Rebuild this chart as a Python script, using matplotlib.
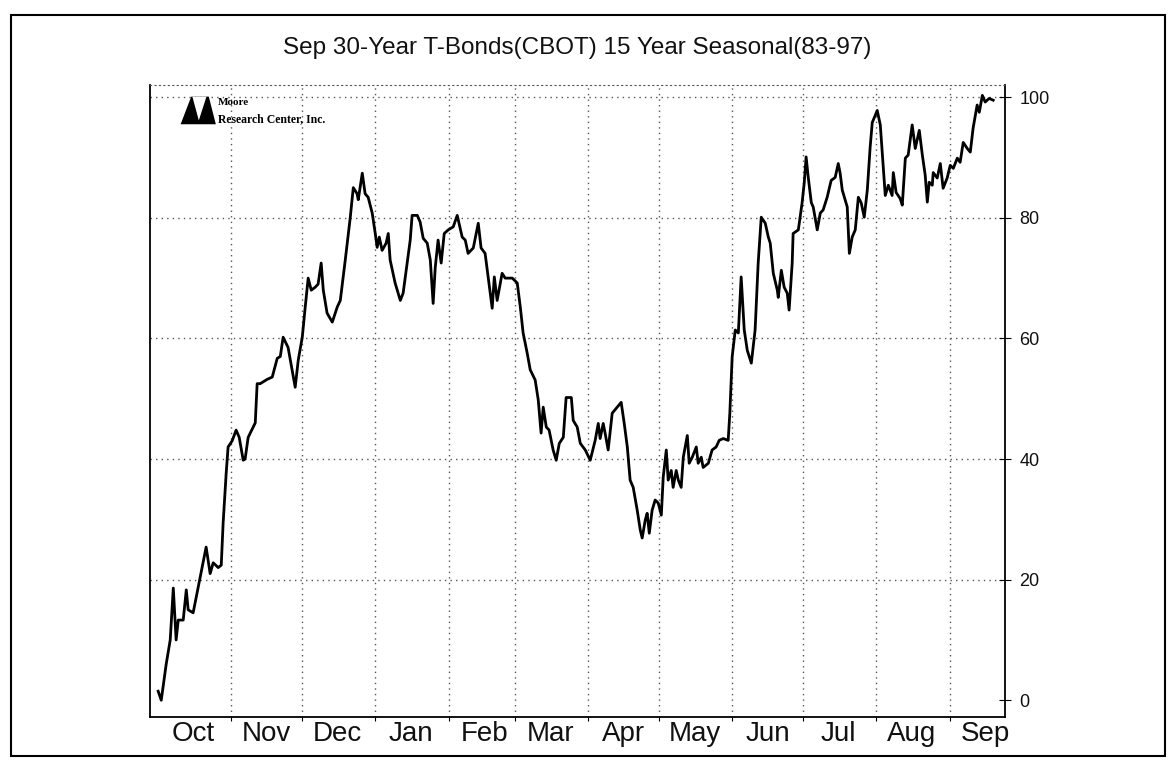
import matplotlib
matplotlib.use("Agg")
import matplotlib.pyplot as plt
import matplotlib.dates as mdates
import matplotlib.patches as patches
import pandas as pd

title = "Sep 30-Year T-Bonds(CBOT) 15 Year Seasonal(83-97)"
season_start = "1996-10-01"

# days since Oct 1
day = [
    0.0, 1.3, 3.4, 5.1, 6.4, 7.6, 8.5, 10.6, 11.9, 12.7, 14.8, 17.8, 20.3, 22.0,
    23.3, 25.4, 26.7, 27.5, 28.8, 29.6, 31.3, 33.0, 34.3, 36.0, 36.8, 38.1, 41.1,
    41.9, 43.2, 46.1, 48.3, 50.4, 51.7, 52.9, 55.0, 58.0, 59.3, 61.0, 62.2, 63.5,
    64.8, 66.5, 67.7, 69.0, 69.9, 71.5, 73.7, 75.8, 77.1, 79.2, 81.3, 82.6, 84.2,
    84.7, 86.4, 87.6, 88.9, 90.6, 91.9, 92.7, 93.6, 94.8, 96.5, 97.4, 98.2, 100.3,
    102.5, 103.7, 105.4, 106.7, 107.5, 109.7, 110.9, 112.2, 113.9, 115.2, 116.4,
    117.3, 118.5, 119.8, 121.1, 122.8, 124.9, 126.6, 128.7, 130.0, 131.2, 133.4,
    135.5, 136.7, 138.4, 139.7, 141.4, 142.3, 143.5, 145.6, 146.9, 149.9, 152.0,
    153.3, 154.5, 156.2, 157.5, 159.6, 160.9, 162.1, 163.0, 164.3, 165.5, 167.2,
    168.5, 169.8, 171.5, 172.7, 174.9, 175.7, 177.4, 178.7, 180.8, 182.9, 185.0,
    186.3, 187.1, 188.4, 189.2, 190.5, 192.2, 194.3, 196.0, 197.3, 198.6, 199.8,
    201.1, 202.8, 204.1, 204.9, 206.2, 207.0, 207.9, 209.1, 210.4, 211.7, 213.0,
    213.8, 215.1, 215.9, 217.2, 218.0, 219.3, 220.2, 221.4, 222.3, 224.0, 224.8,
    226.1, 227.8, 228.6, 229.9, 230.7, 232.9, 234.5, 236.2, 237.5, 239.2, 241.3,
    242.0, 243.0, 244.3, 245.6, 246.8, 248.1, 249.4, 251.1, 252.7, 254.0, 255.3,
    257.0, 258.3, 259.1, 260.4, 262.1, 262.5, 263.8, 265.0, 266.3, 267.1, 268.4,
    268.8, 271.0, 272.6, 273.5, 274.3, 275.2, 276.5, 277.3, 279.0, 280.3, 281.5,
    283.2, 284.9, 286.6, 287.9, 288.7, 289.6, 290.9, 291.7, 292.6, 293.8, 295.1,
    296.4, 297.6, 298.9, 300.2, 301.4, 302.3, 304.4, 305.7, 306.5, 307.8, 309.1,
    310.7, 311.2, 312.4, 314.1, 315.0, 316.3, 317.5, 319.2, 320.5, 322.2, 323.5,
    324.7, 325.6, 326.4, 327.7, 328.1, 329.8, 331.1, 332.3, 334.0, 335.3, 336.6,
    338.3, 339.5, 340.8, 342.5, 343.8, 345.0, 346.7, 347.6, 348.9, 350.1, 351.8,
    353.5,
]

value = [
    1.5, 0.0, 6.0, 10.0, 18.6, 10.0, 13.3, 13.3, 18.3, 15.0, 14.5, 20.4, 25.4, 21.0,
    22.8, 22.0, 22.4, 29.4, 37.7, 42.0, 43.0, 44.8, 43.6, 39.8, 40.0, 43.6, 46.0,
    52.5, 52.5, 53.2, 53.6, 56.7, 57.0, 60.2, 58.5, 51.9, 56.4, 60.2, 65.0, 70.0,
    68.0, 68.5, 69.0, 72.5, 68.0, 64.2, 62.7, 65.2, 66.3, 73.0, 80.0, 85.0, 84.0,
    83.0, 87.4, 84.0, 83.4, 80.8, 77.4, 75.1, 76.8, 74.6, 75.8, 77.4, 73.0, 69.2,
    66.3, 67.5, 72.5, 76.3, 80.4, 80.4, 79.3, 76.6, 75.8, 73.0, 65.8,
    71.8, 76.3, 72.5, 77.4, 78.0, 78.5, 80.4, 76.8, 76.3, 74.1, 75.0,
    79.1, 75.0, 74.1, 70.2, 65.0, 70.2, 66.3, 70.8, 70.0, 70.0, 69.2,
    65.2, 60.9, 57.6, 54.8, 53.1, 49.8, 44.3, 48.6, 45.3, 44.8, 41.5,
    39.8, 42.6, 43.6, 50.2, 50.2, 46.4, 45.3, 42.6, 41.5, 39.8, 43.1,
    45.9, 43.4, 45.9, 44.3, 41.5, 47.6, 48.6, 49.4, 45.9, 42.0, 36.5,
    35.3, 31.5, 28.2, 26.9, 29.9, 31.0, 27.7, 31.5, 33.2, 32.7, 30.7,
    37.0, 41.5, 36.5, 38.1, 35.3, 38.1, 36.5, 35.3, 40.3, 43.9, 39.3,
    40.3, 42.0, 39.3, 40.3, 38.6, 39.3, 41.5, 42.0, 43.1, 43.4, 43.1,
    47.6, 57.0, 61.4, 60.9, 70.2, 61.4, 58.0, 55.9, 61.4, 72.5, 80.1,
    79.1, 76.8, 75.8, 70.8, 68.0, 66.8, 71.3, 68.5, 67.5, 64.7, 72.5,
    77.4, 78.0, 82.5, 85.8, 90.1, 86.7, 82.5, 81.8, 78.0, 80.8, 81.3,
    83.4, 86.2, 86.7, 89.0, 87.4, 84.6, 82.9, 81.8, 74.1, 76.8, 78.0,
    83.4, 82.5, 80.1, 84.6, 91.7, 95.8, 97.8, 95.4, 90.9, 83.7, 85.4,
    83.7, 87.5, 84.2, 83.2, 82.1, 89.9, 90.4, 95.4, 91.5, 94.5, 90.4,
    87.1, 82.6, 85.9, 85.4, 87.5, 86.6, 89.0, 84.9, 86.6, 88.7, 88.2,
    89.9, 89.2, 92.5, 91.5, 90.9, 94.9, 98.7, 97.5, 100.3, 99.2, 99.8,
    99.5,
]

y_ticks = [0, 20, 40, 60, 80, 100]

start = pd.Timestamp(season_start)
dates = start + pd.to_timedelta(day, unit="D")

fig = plt.figure(figsize=(11.73, 7.67), dpi=100)
plt.rcParams["font.family"] = ["Liberation Sans", "DejaVu Sans"]

# outer frame around the whole chart
fig.patches.append(patches.Rectangle((0.009, 0.014), 0.984, 0.966, transform=fig.transFigure,
                                     fill=False, edgecolor="black", linewidth=1.5))

ax = fig.add_axes([0.128, 0.065, 0.729, 0.824])
ax.plot(dates, value, color="black", linewidth=2.0)

ax.set_xlim(start - pd.Timedelta(days=3.4), start + pd.Timedelta(days=358.6))
ax.set_ylim(-2.8, 102)

# month boundaries as gridlines, month names centred between them
ax.xaxis.set_major_locator(mdates.MonthLocator(bymonth=[11, 12, 1, 2, 3, 4, 5, 6, 7, 8, 9]))
ax.xaxis.set_major_formatter(plt.NullFormatter())
ax.xaxis.set_minor_locator(mdates.MonthLocator(bymonthday=16))
ax.xaxis.set_minor_formatter(mdates.DateFormatter("%b"))
ax.tick_params(axis="x", which="major", length=3, direction="out")
ax.tick_params(axis="x", which="minor", length=0, labelsize=20, pad=3, labelcolor="#111111")

ax.yaxis.tick_right()
ax.set_yticks(y_ticks)
ax.tick_params(axis="y", which="major", length=8, direction="inout", labelsize=13, pad=6,
               labelcolor="#111111")

ax.grid(True, which="major", color="#555555", linestyle=(0, (1, 3)), linewidth=1.0)
ax.get_ygridlines()[0].set_visible(False)

for side in ["left", "right", "bottom"]:
    ax.spines[side].set_linewidth(1.3)
ax.spines["top"].set_linestyle((0, (1, 3)))
ax.spines["top"].set_color("#555555")

fig.text(0.492, 0.938, title, ha="center", va="center", fontsize=17.5, color="#111111")

# Moore Research Center logo
logo = patches.Polygon([(0.154, 0.838), (0.163, 0.874), (0.178, 0.874), (0.184, 0.838)],
                       closed=True, transform=fig.transFigure, facecolor="black", edgecolor="none")
fig.patches.append(logo)
notch = patches.Polygon([(0.164, 0.874), (0.1695, 0.843), (0.176, 0.874)],
                        closed=True, transform=fig.transFigure, facecolor="white", edgecolor="none")
fig.patches.append(notch)
fig.text(0.186, 0.866, "Moore", fontsize=8, family="Liberation Serif", weight="bold", va="center")
fig.text(0.186, 0.845, "Research Center, Inc.", fontsize=8.5, family="Liberation Serif",
         weight="bold", va="center")

fig.savefig("out.png", dpi=100)
